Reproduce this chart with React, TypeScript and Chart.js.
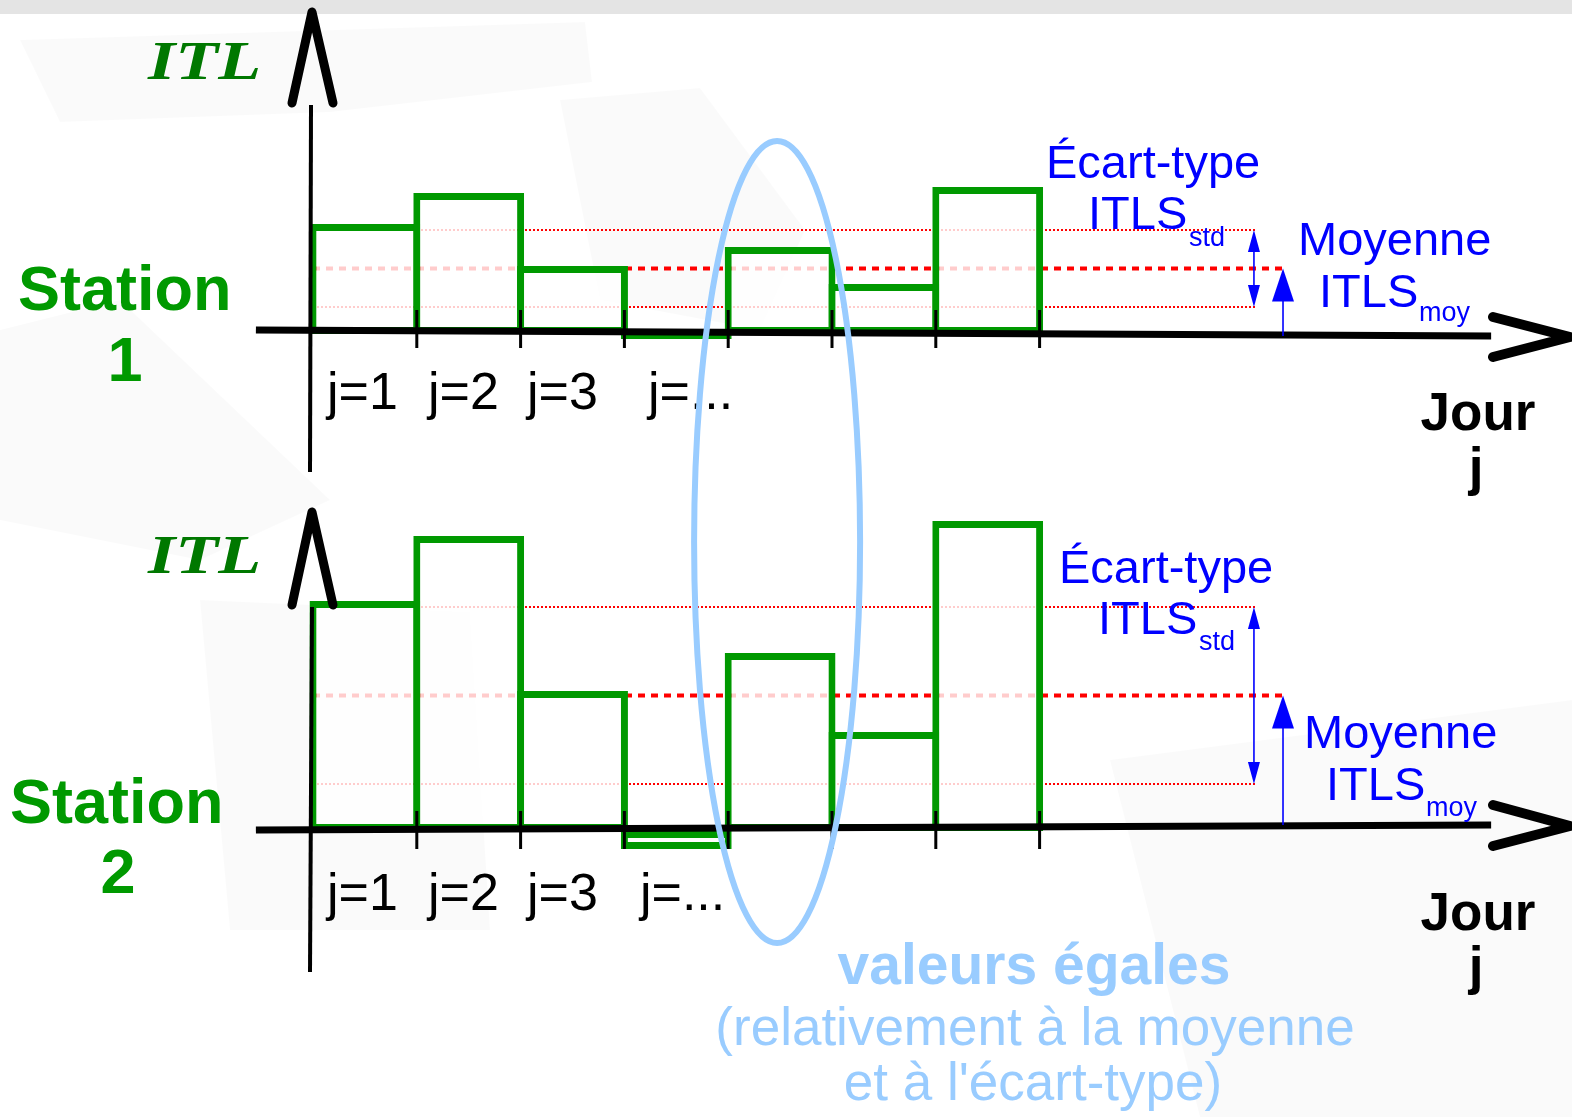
import React, { useEffect, useRef } from 'react';
import { Chart, registerables } from 'chart.js';

Chart.register(...registerables);

// ---------------- data ----------------
const days = [1, 2, 3, 4, 5, 6, 7];
const dayTickLabels = ['j=1', 'j=2', 'j=3', 'j=...'];
const station1Itl = [11.0, 14.1, 6.8, -0.5, 8.7, 5.0, 14.7];
const station2Itl = [23.0, 29.5, 14.0, -1.8, 17.8, 9.9, 31.0];
const station1Mean = 6.55;
const station1Std = 3.85;
const station2Mean = 13.55;
const station2Std = 8.85;
const highlightedDay = 5;

// ---------------- layout ----------------
const W = 1572;
const H = 1117;
const DAY_PX = 103.8;
const DAY1_LEFT_PX = 313;
const X_MIN = 0.5 - DAY1_LEFT_PX / DAY_PX;
const X_MAX = X_MIN + W / DAY_PX;
const UNIT_PX = 10;
const Y_RANGE = H / UNIT_PX;
const Y1_ZERO_PX = 334;
const Y2_ZERO_PX = 831;
const BAR_STROKE = 7;
const STD_END_DAY = 9.575;
const MEAN_END_DAY = 9.864;
const STD_ARROW_DAY = 9.565;
const MEAN_ARROW_DAY = 9.845;

const GREEN = '#009900';
const ITL_GREEN = '#007800';
const RED = '#ff0000';
const BLUE = '#0000ff';
const LIGHT_BLUE = '#99ccff';
const SANS = '"Liberation Sans", Arial, sans-serif';
const SERIF = '"Liberation Serif", "Times New Roman", serif';

const PANELS = [
  {
    yId: 'y1', num: '1', meanVal: station1Mean, stdVal: station1Std,
    tilt: [-4, 2], tick: [-24, 14],
    yArrow: { apex: [312, 12], l: [292, 103], r: [333, 103] },
    yLine: [[311, 105], [310, 472]],
    xArrow: [[1493, 317], [1570, 337], [1493, 357]],
    itlPos: [148, 79], stationPos: [18, 310], numPos: [125, 381],
    labelX: [327, 428, 527, 648], labelY: 409,
    ecartPos: [1046, 178], itlsStdPos: [1088, 229], stdPos: [1189, 246],
    moyennePos: [1298, 255], itlsMoyPos: [1319, 307], moyPos: [1419, 321],
    jourPos: [1476, 430], jPos: [1476, 485],
  },
  {
    yId: 'y2', num: '2', meanVal: station2Mean, stdVal: station2Std,
    tilt: [-1, -6], tick: [-20, 18],
    yArrow: { apex: [312, 512], l: [292, 605], r: [333, 605] },
    yLine: [[312, 607], [310, 972]],
    xArrow: [[1493, 805], [1570, 826], [1493, 846]],
    itlPos: [148, 573], stationPos: [10, 823], numPos: [118, 893],
    labelX: [327, 428, 527, 640], labelY: 910,
    ecartPos: [1059, 583], itlsStdPos: [1098, 634], stdPos: [1199, 650],
    moyennePos: [1304, 748], itlsMoyPos: [1326, 800], moyPos: [1426, 816],
    jourPos: [1476, 930], jPos: [1476, 984],
  },
];

const SHARDS: number[][][] = [
  [[20, 40], [585, 22], [592, 82], [330, 112], [60, 122]],
  [[560, 100], [700, 88], [805, 230], [760, 330], [600, 300]],
  [[0, 330], [120, 300], [330, 500], [200, 560], [0, 520]],
  [[200, 600], [470, 612], [490, 930], [230, 930]],
  [[1110, 760], [1572, 700], [1572, 1117], [1200, 1117]],
];

function text(ctx: CanvasRenderingContext2D, s: string, x: number, y: number, font: string, color: string, align: CanvasTextAlign = 'left') {
  ctx.font = font;
  ctx.fillStyle = color;
  ctx.textAlign = align;
  ctx.textBaseline = 'alphabetic';
  ctx.fillText(s, x, y);
}

function arrowHead(ctx: CanvasRenderingContext2D, x: number, tipY: number, dir: number, w: number, h: number) {
  ctx.beginPath();
  ctx.moveTo(x, tipY);
  ctx.lineTo(x - w / 2, tipY + dir * h);
  ctx.lineTo(x + w / 2, tipY + dir * h);
  ctx.closePath();
  ctx.fill();
}

const decor = {
  id: 'decor',
  beforeDraw(chart: any) {
    const ctx: CanvasRenderingContext2D = chart.ctx;
    ctx.save();
    ctx.fillStyle = '#ffffff';
    ctx.fillRect(0, 0, W, H);
    ctx.fillStyle = 'rgba(0,0,0,0.018)';
    for (const poly of SHARDS) {
      ctx.beginPath();
      poly.forEach(([x, y], i) => (i ? ctx.lineTo(x, y) : ctx.moveTo(x, y)));
      ctx.closePath();
      ctx.fill();
    }
    ctx.fillStyle = '#e4e4e4';
    ctx.fillRect(0, 0, W, 14);
    ctx.restore();
  },
  afterDatasetsDraw(chart: any) {
    const ctx: CanvasRenderingContext2D = chart.ctx;
    const xs = chart.scales.x;
    const px = (d: number) => xs.getPixelForValue(d);
    ctx.save();
    for (const p of PANELS) {
      const ys = chart.scales[p.yId];
      const zero = ys.getPixelForValue(0);
      ctx.strokeStyle = '#000';
      ctx.fillStyle = '#000';
      ctx.setLineDash([]);
      // x axis
      ctx.lineCap = 'butt';
      ctx.lineWidth = 7;
      ctx.beginPath();
      ctx.moveTo(px(-0.05), zero + p.tilt[0]);
      ctx.lineTo(px(11.85), zero + p.tilt[1]);
      ctx.stroke();
      // ticks on day boundaries
      ctx.lineWidth = 3;
      for (const d of days) {
        const x = px(d + 0.5);
        ctx.beginPath();
        ctx.moveTo(x, zero + p.tick[0]);
        ctx.lineTo(x, zero + p.tick[1]);
        ctx.stroke();
      }
      // y axis
      ctx.lineWidth = 4;
      ctx.beginPath();
      ctx.moveTo(p.yLine[0][0], p.yLine[0][1]);
      ctx.lineTo(p.yLine[1][0], p.yLine[1][1]);
      ctx.stroke();
      // arrow heads
      ctx.lineCap = 'round';
      ctx.lineJoin = 'round';
      ctx.lineWidth = 9;
      ctx.beginPath();
      ctx.moveTo(p.yArrow.l[0], p.yArrow.l[1]);
      ctx.lineTo(p.yArrow.apex[0], p.yArrow.apex[1]);
      ctx.lineTo(p.yArrow.r[0], p.yArrow.r[1]);
      ctx.stroke();
      ctx.lineWidth = 10;
      ctx.beginPath();
      ctx.moveTo(p.xArrow[0][0], p.xArrow[0][1]);
      ctx.lineTo(p.xArrow[1][0], p.xArrow[1][1]);
      ctx.lineTo(p.xArrow[2][0], p.xArrow[2][1]);
      ctx.stroke();

      // blue arrows (std and mean)
      ctx.strokeStyle = BLUE;
      ctx.fillStyle = BLUE;
      ctx.lineCap = 'butt';
      ctx.lineWidth = 1.6;
      const sx = px(STD_ARROW_DAY);
      const sTop = ys.getPixelForValue(p.meanVal + p.stdVal);
      const sBot = ys.getPixelForValue(p.meanVal - p.stdVal);
      ctx.beginPath();
      ctx.moveTo(sx, sTop + 10);
      ctx.lineTo(sx, sBot - 10);
      ctx.stroke();
      arrowHead(ctx, sx, sTop, 1, 12, 22);
      arrowHead(ctx, sx, sBot, -1, 12, 22);
      const mx = px(MEAN_ARROW_DAY);
      const mTop = ys.getPixelForValue(p.meanVal);
      ctx.beginPath();
      ctx.moveTo(mx, zero + p.tilt[1]);
      ctx.lineTo(mx, mTop + 20);
      ctx.stroke();
      arrowHead(ctx, mx, mTop, 1, 22, 33);

      // texts
      const big = `47px ${SANS}`;
      const sub = `27px ${SANS}`;
      text(ctx, 'Écart-type', p.ecartPos[0], p.ecartPos[1], big, BLUE);
      text(ctx, 'ITLS', p.itlsStdPos[0], p.itlsStdPos[1], big, BLUE);
      text(ctx, 'std', p.stdPos[0], p.stdPos[1], sub, BLUE);
      text(ctx, 'Moyenne', p.moyennePos[0], p.moyennePos[1], big, BLUE);
      text(ctx, 'ITLS', p.itlsMoyPos[0], p.itlsMoyPos[1], big, BLUE);
      text(ctx, 'moy', p.moyPos[0], p.moyPos[1], sub, BLUE);

      text(ctx, 'Jour', p.jourPos[0] + 2, p.jourPos[1], `bold 53px ${SANS}`, '#000', 'center');
      text(ctx, 'j', p.jPos[0], p.jPos[1], `bold 53px ${SANS}`, '#000', 'center');

      dayTickLabels.forEach((lab, i) => {
        text(ctx, lab, p.labelX[i], p.labelY, `52px ${SANS}`, '#000');
      });

      text(ctx, 'Station', p.stationPos[0], p.stationPos[1], `bold 63px ${SANS}`, GREEN);
      text(ctx, p.num, p.numPos[0], p.numPos[1], `bold 63px ${SANS}`, GREEN, 'center');

      ctx.save();
      ctx.translate(p.itlPos[0], p.itlPos[1]);
      ctx.scale(1.3, 1);
      text(ctx, 'ITL', 0, 0, `bold italic 54px ${SERIF}`, ITL_GREEN);
      ctx.restore();
    }

    // highlight ellipse around the equal-valued day
    const ys1 = chart.scales.y1;
    const ys2 = chart.scales.y2;
    const cx = px(highlightedDay) - 3;
    const topY = ys1.getPixelForValue(19.3);
    const botY = ys2.getPixelForValue(-11.2);
    ctx.strokeStyle = LIGHT_BLUE;
    ctx.lineWidth = 6;
    ctx.beginPath();
    ctx.ellipse(cx, (topY + botY) / 2, 83, (botY - topY) / 2, 0, 0, Math.PI * 2);
    ctx.stroke();

    text(ctx, 'valeurs égales', 1034, 984, `bold 57px ${SANS}`, LIGHT_BLUE, 'center');
    text(ctx, '(relativement à la moyenne', 1035, 1045, `53px ${SANS}`, LIGHT_BLUE, 'center');
    text(ctx, "et à l'écart-type)", 1033, 1100, `53px ${SANS}`, LIGHT_BLUE, 'center');
    ctx.restore();
  },
};

function barsFor(yId: string, values: number[]) {
  return {
    type: 'bar' as const,
    data: days.map((d, i) => ({ x: d, y: values[i] })),
    xAxisID: 'x',
    yAxisID: yId,
    backgroundColor: 'rgba(255,255,255,0.8)',
    borderColor: GREEN,
    borderWidth: BAR_STROKE,
    borderSkipped: false,
    grouped: false,
    inflateAmount: 0,
    // bars extend half a stroke past each day boundary so the outline is centred on it
    barPercentage: 1 + BAR_STROKE / DAY_PX,
    categoryPercentage: 1,
    order: 1,
  };
}

function hLine(yId: string, value: number, endDay: number, width: number, dash: number[]) {
  return {
    type: 'line' as const,
    data: [{ x: 0.5, y: value }, { x: endDay, y: value }],
    xAxisID: 'x',
    yAxisID: yId,
    borderColor: RED,
    borderWidth: width,
    borderDash: dash,
    pointRadius: 0,
    fill: false,
    tension: 0,
    order: 2,
  };
}

export default function App() {
  const ref = useRef<HTMLCanvasElement | null>(null);
  useEffect(() => {
    if (!ref.current) return;
    const datasets: any[] = [
      barsFor('y1', station1Itl),
      barsFor('y2', station2Itl),
      hLine('y1', station1Mean, MEAN_END_DAY, 4, [7, 6]),
      hLine('y1', station1Mean + station1Std, STD_END_DAY, 2, [2, 2]),
      hLine('y1', station1Mean - station1Std, STD_END_DAY, 2, [2, 2]),
      hLine('y2', station2Mean, MEAN_END_DAY, 4, [7, 6]),
      hLine('y2', station2Mean + station2Std, STD_END_DAY, 2, [2, 2]),
      hLine('y2', station2Mean - station2Std, STD_END_DAY, 2, [2, 2]),
    ];
    const chart = new Chart(ref.current, {
      type: 'bar',
      data: { datasets },
      options: {
        responsive: false,
        animation: false,
        devicePixelRatio: 1,
        layout: { padding: 0 },
        plugins: { legend: { display: false }, tooltip: { enabled: false } },
        scales: {
          x: { type: 'linear', display: false, offset: false, grid: { offset: false }, min: X_MIN, max: X_MAX, ticks: { stepSize: 1, includeBounds: false } },
          y1: { type: 'linear', axis: 'y', display: false, max: Y1_ZERO_PX / UNIT_PX, min: Y1_ZERO_PX / UNIT_PX - Y_RANGE },
          y2: { type: 'linear', axis: 'y', display: false, max: Y2_ZERO_PX / UNIT_PX, min: Y2_ZERO_PX / UNIT_PX - Y_RANGE },
        },
      } as any,
      plugins: [decor as any],
    });
    return () => chart.destroy();
  }, []);
  return (
    <div style={{ position: 'absolute', left: 0, top: 0, width: W, height: H, background: '#fff' }}>
      <canvas ref={ref} width={W} height={H} style={{ display: 'block', width: W, height: H }} />
    </div>
  );
}
